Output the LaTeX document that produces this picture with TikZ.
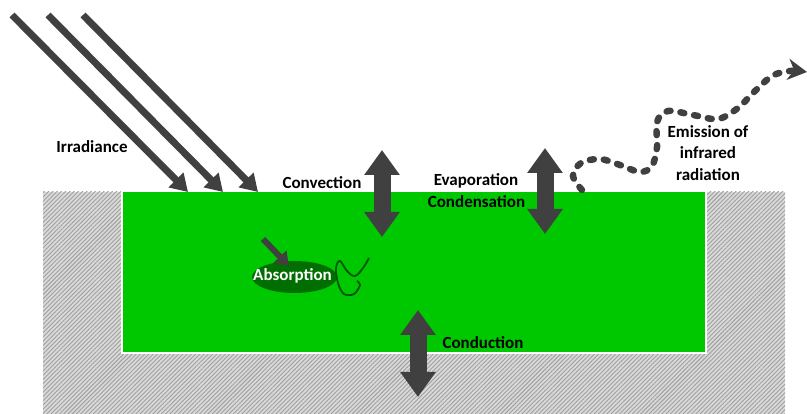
\documentclass[tikz,border=0pt]{standalone}
\usepackage{fontspec}
\setmainfont{Carlito}
\usetikzlibrary{arrows.meta,patterns.meta,shapes.geometric}
\definecolor{dgray}{HTML}{404040}
\definecolor{water}{RGB}{0,200,0}
\definecolor{cell}{RGB}{0,110,0}
\definecolor{wire}{RGB}{0,85,0}
\definecolor{ground}{HTML}{D9D9D9}
\definecolor{hatch}{HTML}{A0A0A0}
\begin{document}
\begin{tikzpicture}[x=1pt,y=-1pt,
  lbl/.style={font=\bfseries\fontsize{17}{21.5}\selectfont, text=black, inner sep=0pt, align=center},
  dbl/.style={dgray, line width=17pt, arrows={Triangle[length=25pt,width=34pt]-Triangle[length=25pt,width=34pt]}},
  irr/.style={dgray, line width=7pt, arrows={-Triangle[length=17pt,width=20pt]}},
  emit/.style={dgray, line width=6.5pt, line cap=round, dash pattern=on 4pt off 10pt, arrows={-Stealth[length=19pt,width=21pt,inset=6pt]}},
  absarrow/.style={dgray, line width=6pt, arrows={-Triangle[length=13pt,width=17pt]}},
  squig/.style={wire, line width=1.8pt}]
\useasboundingbox (0,0) rectangle (807,414);
% ground
\fill[ground] (43,192) rectangle (785,414);
\fill[pattern={Lines[angle=45,distance=3pt,line width=0.9pt]}, pattern color=hatch] (43,192) rectangle (785,414);
% water body
\filldraw[fill=water, draw=white, line width=2pt] (122,191) rectangle (706,353);
% irradiance
\coordinate (i1a) at (12,15);  \coordinate (i1b) at (188,192);
\coordinate (i2a) at (48,15);  \coordinate (i2b) at (223,192);
\coordinate (i3a) at (83,15);  \coordinate (i3b) at (258,192);
\draw[irr] (i1a) -- (i1b);
\draw[irr] (i2a) -- (i2b);
\draw[irr] (i3a) -- (i3b);
\node[lbl] (irrl) at (92,147) {Irradiance};
% convection
\coordinate (cva) at (382,150); \coordinate (cvb) at (382,237);
\draw[dbl] (cva) -- (cvb);
\node[lbl] (cvl) at (322,183) {Convection};
% evaporation
\coordinate (eva) at (545,148); \coordinate (evb) at (545,234);
\draw[dbl] (eva) -- (evb);
\node[lbl] (evl) at (476,181) {Evaporation};
\node[lbl] (cdl) at (476.5,202) {Condensation};
% conduction
\coordinate (cda) at (418,310); \coordinate (cdb) at (418,397);
\draw[dbl] (cda) -- (cdb);
\node[lbl] (cnl) at (483,343) {Conduction};
% absorption
\node[ellipse, fill=cell, minimum width=85pt, minimum height=32pt, inner sep=0pt] (abs) at (294.5,277) {};
\node[lbl, text=white] (absl) at (292.5,276) {Absorption};
\coordinate (aba) at (263,239);
\draw[absarrow] (aba) -- (289,266);
\draw[squig] plot[smooth, tension=0.6] coordinates {(369,258) (363,268) (355,276) (347,271) (340,261) (336,268) (338,283) (344,294) (354,294) (360,285) (357,281)};
% emission
\draw[emit] plot[smooth, tension=0.55] coordinates {(582,190) (573,176) (581,163) (600,159) (620,165) (640,172) (652,166) (657,147) (657,122) (668,111) (693,115) (718,119) (738,108) (753,93) (772,76) (790,71) (807,72)};
\node[lbl] (eml) at (708,153) {Emission of\\infrared\\radiation};
\end{tikzpicture}
\end{document}
